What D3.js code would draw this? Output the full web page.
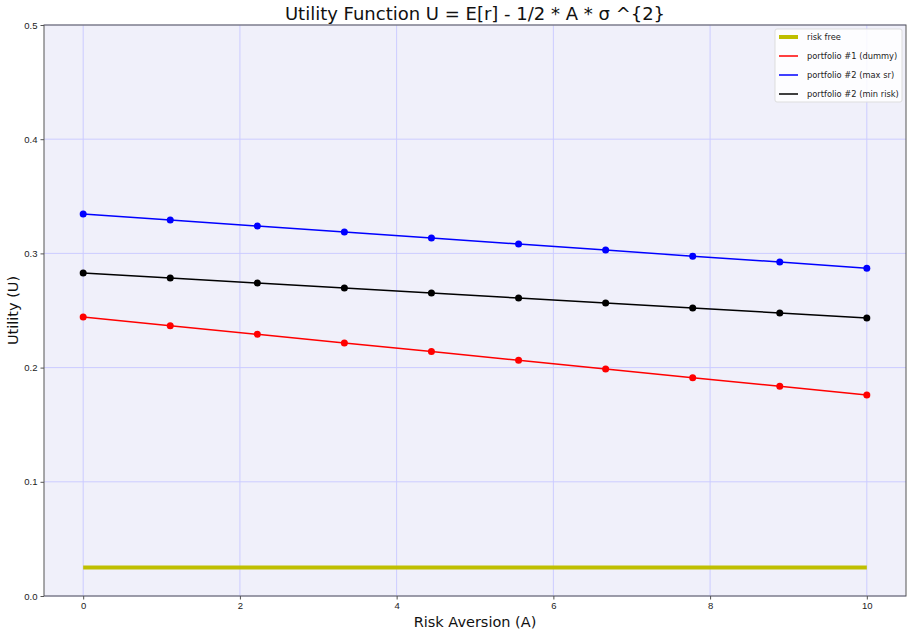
<!DOCTYPE html>
<html lang="en">
<head>
    <meta charset="UTF-8">
    <title>Utility Function</title>
    <script src="https://d3js.org/d3.v7.min.js"></script>
    <style>
        body { margin: 0; background: #fff; font-family: "DejaVu Sans", sans-serif; }
        .grid line { stroke: #ccccff; stroke-width: 1; }
        .axis text { font-size: 9.5px; fill: #222; }
        .axis path, .axis line { stroke: #555; }
    </style>
</head>
<body>
    <svg width="909" height="635"></svg>

    <script>
        // Risk aversion values (x) and utilities
        const aversion = [0, 1.111, 2.222, 3.333, 4.444, 5.556, 6.667, 7.778, 8.889, 10];
        const riskFree = [0.025, 0.025];
        const dummy = [0.2443, 0.2367, 0.2291, 0.2215, 0.2140, 0.2064, 0.1988, 0.1912, 0.1836, 0.1760];
        const maxSr = [0.3345, 0.3292, 0.3240, 0.3187, 0.3134, 0.3082, 0.3029, 0.2976, 0.2924, 0.2871];
        const minRisk = [0.2828, 0.2784, 0.2740, 0.2697, 0.2653, 0.2609, 0.2565, 0.2522, 0.2478, 0.2434];
        const xTicks = [0, 2, 4, 6, 8, 10];
        const yTicks = [0, 0.1, 0.2, 0.3, 0.4, 0.5];

        const series = [
            { name: "portfolio #1 (dummy)", values: dummy, color: "#ff0000" },
            { name: "portfolio #2 (max sr)", values: maxSr, color: "#0000ff" },
            { name: "portfolio #2 (min risk)", values: minRisk, color: "#000000" }
        ];

        const margin = { top: 25, right: 3, bottom: 39, left: 44 };
        const width = 909 - margin.left - margin.right,
              height = 635 - margin.top - margin.bottom;

        const svg = d3.select("svg");
        const g = svg.append("g").attr("transform", `translate(${margin.left},${margin.top})`);

        const x = d3.scaleLinear().domain([-0.5, 10.5]).range([0, width]);
        const y = d3.scaleLinear().domain([0, 0.5]).range([height, 0]);

        // plot background
        g.append("rect")
            .attr("width", width).attr("height", height)
            .attr("fill", "#f0f0fa");

        // grid
        g.append("g").attr("class", "grid")
            .selectAll("line").data(xTicks).enter().append("line")
            .attr("x1", d => x(d)).attr("x2", d => x(d))
            .attr("y1", 0).attr("y2", height);
        g.append("g").attr("class", "grid")
            .selectAll("line").data(yTicks).enter().append("line")
            .attr("x1", 0).attr("x2", width)
            .attr("y1", d => y(d)).attr("y2", d => y(d));

        // risk free line
        g.append("path")
            .datum(riskFree)
            .attr("fill", "none")
            .attr("stroke", "#bfbf00")
            .attr("stroke-width", 4)
            .attr("d", d3.line().x((d, i) => x(i === 0 ? 0 : 10)).y(d => y(d)));

        const line = d3.line().x((d, i) => x(aversion[i])).y(d => y(d));

        series.forEach(s => {
            g.append("path")
                .datum(s.values)
                .attr("fill", "none")
                .attr("stroke", s.color)
                .attr("stroke-width", 1.5)
                .attr("d", line);
            g.selectAll(null)
                .data(s.values).enter().append("circle")
                .attr("cx", (d, i) => x(aversion[i]))
                .attr("cy", d => y(d))
                .attr("r", 3.5)
                .attr("fill", s.color);
        });

        // frame
        g.append("rect")
            .attr("width", width).attr("height", height)
            .attr("fill", "none").attr("stroke", "#555").attr("stroke-width", 1);

        // axes
        g.append("g").attr("class", "axis")
            .attr("transform", `translate(0,${height})`)
            .call(d3.axisBottom(x).tickValues(xTicks).tickFormat(d3.format("d")).tickSize(3.5).tickPadding(3))
            .call(a => a.select(".domain").remove());
        g.append("g").attr("class", "axis")
            .call(d3.axisLeft(y).tickValues(yTicks).tickFormat(d3.format(".1f")).tickSize(3.5).tickPadding(3))
            .call(a => a.select(".domain").remove());

        // titles
        svg.append("text")
            .attr("x", margin.left + width / 2).attr("y", 20)
            .attr("text-anchor", "middle")
            .attr("font-size", "18px").attr("fill", "#111")
            .text("Utility Function U = E[r] - 1/2 * A * σ ^{2}");
        svg.append("text")
            .attr("x", margin.left + width / 2).attr("y", 627)
            .attr("text-anchor", "middle")
            .attr("font-size", "14.5px").attr("fill", "#111")
            .text("Risk Aversion (A)");
        svg.append("text")
            .attr("transform", `translate(18,${margin.top + height / 2}) rotate(-90)`)
            .attr("text-anchor", "middle")
            .attr("font-size", "14.5px").attr("fill", "#111")
            .text("Utility (U)");

        // legend
        const legendItems = [{ name: "risk free", color: "#bfbf00", w: 4 }]
            .concat(series.map(s => ({ name: s.name, color: s.color, w: 1.5 })));
        const lg = svg.append("g").attr("transform", "translate(775,29)");
        lg.append("rect")
            .attr("width", 127).attr("height", 73).attr("rx", 2)
            .attr("fill", "#fff").attr("fill-opacity", 0.85)
            .attr("stroke", "#ddd");
        legendItems.forEach((d, i) => {
            const row = lg.append("g").attr("transform", `translate(4,${8 + i * 19})`);
            row.append("line").attr("x1", 0).attr("x2", 19)
                .attr("stroke", d.color).attr("stroke-width", d.w);
            row.append("text").attr("x", 28).attr("y", 3)
                .attr("font-size", "8.3px").attr("fill", "#222")
                .text(d.name);
        });
    </script>
</body>
</html>
